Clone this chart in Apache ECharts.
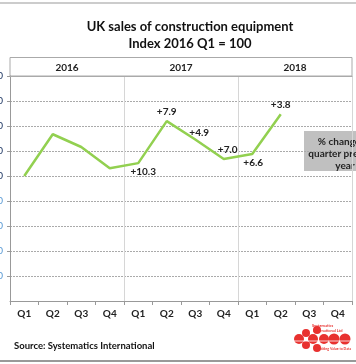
<!DOCTYPE html>
<html><head><meta charset="utf-8">
<script src="https://cdn.jsdelivr.net/npm/echarts@6/dist/echarts.min.js"></script>
<style>html,body{margin:0;padding:0;background:#fff}#c{width:356px;height:364px}</style>
</head><body><div id="c"></div>
<script>
const quarters = ['Q1','Q2','Q3','Q4','Q1','Q2','Q3','Q4','Q1','Q2','Q3','Q4'];
const years = ['2016','2017','2018'];
const indexValues = [100, 133.4, 123.2, 106.2, 110.3, 143.9, 129.2, 113.6, 117.6, 149.4, null, null];
const changeLabels = ['', '', '', '', '+10.3', '+7.9', '+4.9', '+7.0', '+6.6', '+3.8', '', ''];
const yMin = 0, yMax = 180, yStep = 20;

const FONT = 'Lato, "Liberation Sans", sans-serif';
const labelPlace = {4:['bottom',[5,0]],5:['top',[0,0]],6:['top',[4,2]],7:['top',[4,0]],8:['bottom',[1,0]],9:['top',[0,0]]};

const chart = echarts.init(document.getElementById('c'), null, {renderer:'canvas'});
chart.setOption({
  animation:false,
  backgroundColor:'#fff',
  title:{text:'UK sales of construction equipment\nIndex 2016 Q1 = 100', left:185, top:13, textAlign:'center',
    textStyle:{fontFamily:FONT, fontSize:13, fontWeight:'bold', color:'#111', lineHeight:17}},
  grid:{left:10, right:4, top:76, bottom:63, containLabel:false, outerBoundsMode:'none'},
  xAxis:[{
    type:'category', data:quarters, position:'bottom',
    axisLine:{lineStyle:{color:'#999'}},
    axisTick:{show:true, length:4, interval:0, lineStyle:{color:'#999'}},
    axisLabel:{margin:8, fontFamily:FONT, fontSize:10, fontWeight:'bold', color:'#222', interval:0},
    splitLine:{show:true, interval:function(i){return i===4||i===8;}, lineStyle:{color:'#d6d6d6', type:'solid'}}
  },{
    type:'category', data:years, position:'top',
    axisLine:{show:true, lineStyle:{color:'#aaa'}},
    axisTick:{show:false},
    axisLabel:{margin:3, fontFamily:FONT, fontSize:10, fontWeight:'bold', color:'#222'},
    splitLine:{show:false}
  }],
  yAxis:{
    type:'value', min:yMin, max:yMax, interval:yStep,
    axisLine:{show:true, lineStyle:{color:'#999'}},
    axisTick:{show:true, length:3, lineStyle:{color:'#999'}},
    axisLabel:{margin:7, fontFamily:FONT, fontSize:10, showMinLabel:false,
      color:function(v){return +v>=100?'#1f3864':'#5b9bd5';}},
    splitLine:{lineStyle:{color:'#aaa', type:[2,1]}}
  },
  series:[{
    type:'line', xAxisIndex:0,
    data:indexValues.map(function(v,i){
      const p = labelPlace[i];
      return {value:v, label: changeLabels[i] ? {show:true, formatter:changeLabels[i], position:p[0], offset:p[1]} : {show:false}};
    }),
    showSymbol:true, symbol:'circle', symbolSize:0.1,
    itemStyle:{color:'#92d050'},
    lineStyle:{color:'#92d050', width:2.5},
    label:{fontFamily:FONT, fontSize:10, fontWeight:'bold', color:'#222', distance:4},
    connectNulls:false
  }],
  graphic:[
    {type:'line', shape:{x1:0,y1:3,x2:356,y2:3}, style:{stroke:'#999', lineWidth:1}},
    {type:'line', shape:{x1:0,y1:361,x2:356,y2:361}, style:{stroke:'#777', lineWidth:1.5}},
    {type:'rect', shape:{x:10,y:57.5,width:342,height:18.5}, style:{fill:'none', stroke:'#aaa', lineWidth:1}, z:-1},
    {type:'rect', shape:{x:304,y:131,width:82,height:40}, style:{fill:'#c0c0c0'}},
    {type:'text', style:{x:345, y:136, text:'% change vs\nquarter previous\nyear', textAlign:'center', font:'bold 10px '+FONT, fill:'#222', lineHeight:12}},
    {type:'text', style:{x:14, y:341, text:'Source: Systematics International', font:'bold 9.5px '+FONT, fill:'#111'}},
    {type:'circle', shape:{cx:299,cy:339,r:5}, style:{fill:'#e8312f'}},
    {type:'circle', shape:{cx:306,cy:333,r:4}, style:{fill:'#e8312f'}},
    {type:'circle', shape:{cx:306,cy:345,r:4}, style:{fill:'#e8312f'}},
    {type:'circle', shape:{cx:313,cy:339,r:5}, style:{fill:'#e8312f'}},
    {type:'circle', shape:{cx:317,cy:330,r:4}, style:{fill:'#e8312f'}},
    {type:'circle', shape:{cx:317,cy:348,r:4}, style:{fill:'#e8312f'}},
    {type:'circle', shape:{cx:324,cy:339,r:5}, style:{fill:'#e8312f'}},
    {type:'circle', shape:{cx:334,cy:339,r:5.5}, style:{fill:'#e8312f'}},
    {type:'circle', shape:{cx:345,cy:339,r:5.5}, style:{fill:'#e8312f'}},
    {type:'line', shape:{x1:294,y1:341,x2:356,y2:341}, style:{stroke:'#fff', lineWidth:0.8}},
    {type:'text', style:{x:312, y:324, text:'Systematics', font:'bold 4px '+FONT, fill:'#e8312f'}},
    {type:'text', style:{x:313, y:328.5, text:'International Ltd', font:'bold 4px '+FONT, fill:'#e8312f'}},
    {type:'text', style:{x:318, y:347, text:'Adding Value to Data', font:'bold 3.5px '+FONT, fill:'#e8312f'}}
  ]
});
</script></body></html>
